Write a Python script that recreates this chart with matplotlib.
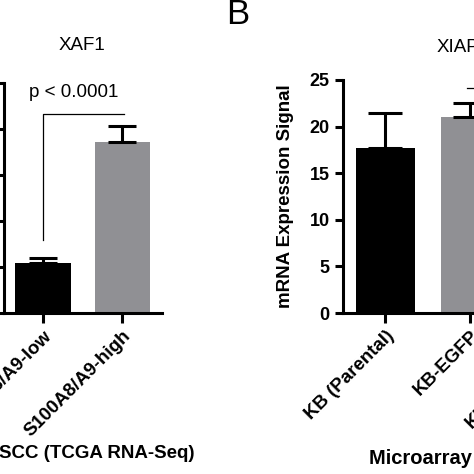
import numpy as np
from matplotlib import pyplot as plt

plt.rcParams['font.family'] = ['Liberation Sans', 'DejaVu Sans']

## 데이터
# A: XAF1 (TCGA RNA-Seq)
xaf1_groups = ['S100A8/A9-low', 'S100A8/A9-high']
xaf1_mean = [217, 743]
xaf1_err = [22, 70]
xaf1_ticks = [0, 200, 400, 600, 800, 1000]

# B: XIAP (Microarray)
xiap_groups = ['KB (Parental)', 'KB-EGFP', 'KB-S100A8/A9']
xiap_mean = [17.7, 21.0, 22.0]
xiap_err = [3.8, 1.5, 1.2]
xiap_ticks = [0, 5, 10, 15, 20, 25]

bar_colors = ['black', '#909094', 'white']

W = 474.0
def px(x0, y0, x1, y1):
    # 픽셀 좌표 -> figure 좌표 (left, bottom, width, height)
    return [x0 / W, (W - y1) / W, (x1 - x0) / W, (y1 - y0) / W]

fig = plt.figure(figsize=(4.74, 4.74), dpi=100)

def style(ax):
    for s in ['top', 'right']:
        ax.spines[s].set_visible(False)
    for s in ['left', 'bottom']:
        ax.spines[s].set_linewidth(2.2)
    ax.tick_params(axis='y', direction='out', length=6, width=2.2, labelsize=13)
    ax.tick_params(axis='x', direction='out', length=7, width=2.2, labelsize=13.5)
    for lab in ax.get_xticklabels() + ax.get_yticklabels():
        lab.set_fontweight('bold')

## 왼쪽 패널 (A)
ax1 = fig.add_axes(px(3.5, 83, 162, 313))
x1 = np.arange(len(xaf1_groups))
ax1.bar(x1, xaf1_mean, width=0.7, color=bar_colors[:2], edgecolor='none')
ax1.errorbar(x1, xaf1_mean, yerr=[np.zeros(len(x1)), xaf1_err], fmt='none',
             ecolor='black', elinewidth=2.2, capsize=10, capthick=2.2)
ax1.set_xlim(-0.5, 1.5)
ax1.set_ylim(0, 1000)
ax1.set_yticks(xaf1_ticks)
ax1.set_xticks(x1)
ax1.set_xticklabels(xaf1_groups, rotation=45, ha='right', rotation_mode='anchor')
style(ax1)
ax1.plot([0, 0, 1.02], [317, 865, 865], color='black', lw=0.9)
ax1.text(0.39, 957, 'p < 0.0001', ha='center', va='center', fontsize=13.5)

## 오른쪽 패널 (B)
ax2 = fig.add_axes(px(343, 80, 597, 313))
x2 = np.arange(len(xiap_groups))
ax2.bar(x2, xiap_mean, width=0.69, color=bar_colors, edgecolor='black', linewidth=0)
ax2.errorbar(x2, xiap_mean, yerr=[np.zeros(len(x2)), xiap_err], fmt='none',
             ecolor='black', elinewidth=2.2, capsize=12, capthick=2.2)
ax2.set_xlim(-0.5, 2.5)
ax2.set_ylim(0, 25)
ax2.set_yticks(xiap_ticks)
ax2.set_xticks(x2)
ax2.set_xticklabels(xiap_groups, rotation=45, ha='right', rotation_mode='anchor')
style(ax2)
ax2.plot([0.97, 2.0], [24.1, 24.1], color='black', lw=0.9, clip_on=False)

## 텍스트
fig.text(82 / W, 1 - 46 / W, 'XAF1', ha='center', va='center', fontsize=13.5)
fig.text(437 / W, 1 - 48 / W, 'XIAP', ha='left', va='center', fontsize=13.5)
fig.text(238 / W, 1 - 14 / W, 'B', ha='center', va='center', fontsize=25)
fig.text(285 / W, 1 - 196 / W, 'mRNA Expression Signal', rotation=90,
         ha='center', va='center', fontsize=13.5, fontweight='bold')
fig.text(195 / W, 1 - 454 / W, 'HNSCC (TCGA RNA-Seq)', ha='right', va='center',
         fontsize=13.5, fontweight='bold')
fig.text(369 / W, 1 - 459 / W, 'Microarray Data', ha='left', va='center',
         fontsize=14.5, fontweight='bold')

plt.savefig('out.png', dpi=100)
